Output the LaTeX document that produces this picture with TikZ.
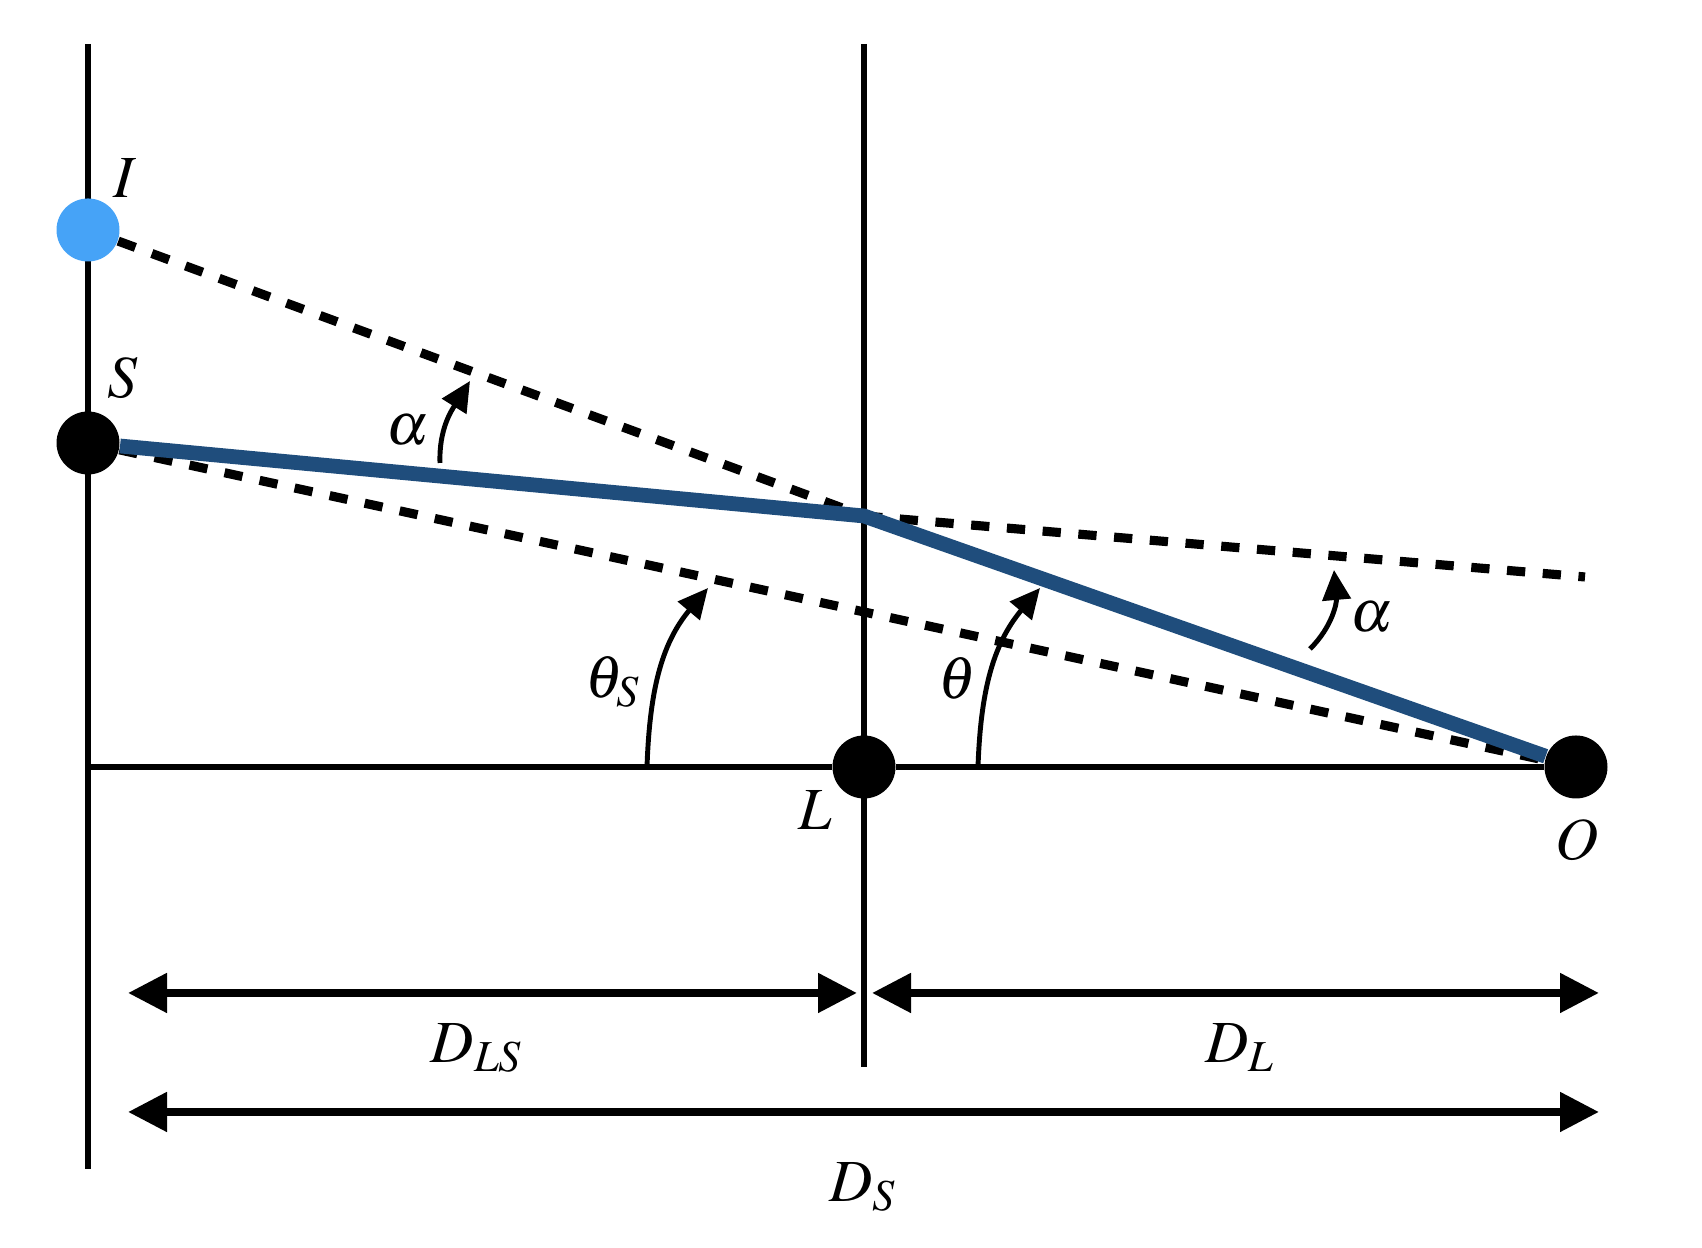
\documentclass[tikz,border=0pt]{standalone}
\usepackage{mathptmx}
\usetikzlibrary{arrows.meta}

\definecolor{imgblue}{RGB}{70,163,247}
\definecolor{rayblue}{RGB}{31,77,124}

\begin{document}
\begin{tikzpicture}[
dot/.style={circle, fill=black, inner sep=0pt, minimum size=6.3mm},
axis/.style={line width=1.5pt},
ray/.style={line width=4.2pt, rayblue, line join=round},
guide/.style={line width=2.6pt, dash pattern=on 5.2pt off 5pt},
dist/.style={{Triangle[length=3.9mm,width=3.8mm]}-{Triangle[length=3.9mm,width=3.8mm]}, line width=2.3pt},
ang/.style={-{Triangle[length=3mm,width=2.8mm]}, line width=1.4pt},
lbl/.style={font=\fontsize{17pt}{20pt}\selectfont}
]
\useasboundingbox (0,0) rectangle (17.02,12.48);

% planes
\coordinate (top1) at (0.88,12.04);
\coordinate (bot1) at (0.88,0.79);
\coordinate (top2) at (8.64,12.04);
\coordinate (bot2) at (8.64,1.81);
\coordinate (base) at (0.88,4.81);
\draw[axis] (top1) -- (bot1);
\draw[axis] (top2) -- (bot2);

% points
\node[dot, fill=imgblue] (I) at (0.88,10.18) {};
\node[dot] (S) at (0.88,8.05) {};
\node[dot] (L) at (8.64,4.81) {};
\node[dot] (O) at (15.76,4.81) {};
\coordinate (B) at (8.64,7.32);
\coordinate (far) at (15.85,6.71);

\draw[axis] (base) -- (L) -- (O);

% rays
\draw[guide] (I) -- (B);
\draw[guide] (B) -- (far);
\draw[guide] (S) -- (O);
\draw[ray] (S) -- (B) -- (O);

% angles
\coordinate (a1s) at (4.40,7.85);
\coordinate (a1e) at (4.70,8.67);
\coordinate (a2s) at (13.10,5.99);
\coordinate (a2e) at (13.34,6.78);
\coordinate (tss) at (6.47,4.81);
\coordinate (tse) at (7.08,6.60);
\coordinate (ths) at (9.78,4.81);
\coordinate (the) at (10.40,6.60);
\draw[ang] (a1s) to[out=92, in=238] (a1e);
\draw[ang] (a2s) to[out=45, in=275] (a2e);
\draw[ang] (tss) to[out=88, in=230] (tse);
\draw[ang] (ths) to[out=88, in=230] (the);

% distances
\coordinate (d1a) at (1.28,2.55);
\coordinate (d1b) at (8.57,2.55);
\coordinate (d2a) at (8.72,2.55);
\coordinate (d2b) at (15.99,2.55);
\coordinate (d3a) at (1.28,1.36);
\coordinate (d3b) at (15.99,1.36);
\draw[dist] (d1a) -- (d1b);
\draw[dist] (d2a) -- (d2b);
\draw[dist] (d3a) -- (d3b);

% labels
\node[lbl] (lI) at (1.25,10.70) {$I$};
\node[lbl] (lS) at (1.23,8.70) {$S$};
\node[lbl] (lL) at (8.15,4.38) {$L$};
\node[lbl] (lO) at (15.77,4.08) {$O$};
\node[lbl] (la1) at (4.08,8.18) {$\alpha$};
\node[lbl] (la2) at (13.72,6.31) {$\alpha$};
\node[lbl] (lts) at (6.13,5.66) {$\theta_S$};
\node[lbl] (lth) at (9.57,5.70) {$\theta$};
\node[lbl] (lDLS) at (4.77,2.00) {$D_{LS}$};
\node[lbl] (lDL) at (12.40,2.00) {$D_L$};
\node[lbl] (lDS) at (8.63,0.61) {$D_S$};

\end{tikzpicture}
\end{document}
